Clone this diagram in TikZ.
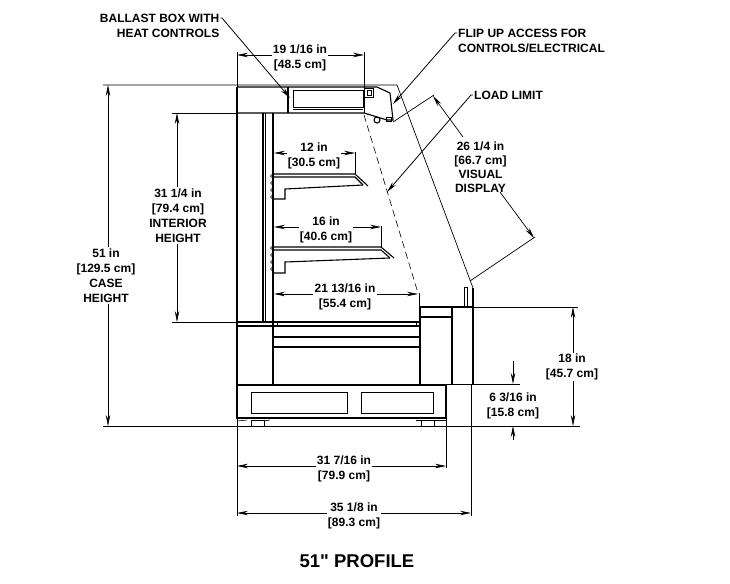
\documentclass[tikz,border=0pt]{standalone}
\usepackage{fontspec}
\setmainfont{Liberation Sans}[Ligatures=TeXOff]
\usetikzlibrary{arrows.meta}
\tikzset{dimtext/.style={shape=rectangle, font=\bfseries\fontsize{12}{15}\selectfont, align=center, inner sep=1pt}}
\tikzset{dimline/.style={line width=0.7pt, -{Stealth[length=11pt,width=4.5pt]}}}
\tikzset{leader/.style={line width=0.8pt, -{Stealth[length=11pt,width=4.5pt]}}}
\tikzset{extline/.style={line width=0.7pt}}
\tikzset{bodyline/.style={line width=1.1pt}}
\tikzset{heavyline/.style={line width=1.6pt}}
\tikzset{thinline/.style={line width=0.6pt}}
\tikzset{cutline/.style={line width=0.6pt, dash pattern=on 7pt off 4pt}}

\begin{document}
\begin{tikzpicture}[x=1pt,y=-1pt]
\useasboundingbox (0,0) rectangle (730,583);
%Nodes
\node[dimtext, align=right, anchor=east] (ballast)  at (220.5,25.5) {BALLAST BOX WITH\\HEAT CONTROLS};
\node[dimtext, align=left, anchor=west]  (flipup)   at (457,40.5) {FLIP UP ACCESS FOR\\CONTROLS/ELECTRICAL};
\node[dimtext, anchor=west]              (loadlim)  at (473,95) {LOAD LIMIT};
\node[dimtext] (depth)    at (300,57.5)  {19 1/16 in\\{}[48.5 cm]};
\node[dimtext] (shelfa)   at (314,155.5) {12 in\\{}[30.5 cm]};
\node[dimtext] (shelfb)   at (326,229.5) {16 in\\{}[40.6 cm]};
\node[dimtext] (floor)    at (345,296.5) {21 13/16 in\\{}[55.4 cm]};
\node[dimtext] (interior) at (178,215.5) {31 1/4 in\\{}[79.4 cm]\\INTERIOR\\HEIGHT};
\node[dimtext] (casehgt)  at (106,275.5) {51 in\\{}[129.5 cm]\\CASE\\HEIGHT};
\node[dimtext, font=\bfseries\fontsize{12}{14}\selectfont] (visual) at (480.5,167) {26 1/4 in\\{}[66.7 cm]\\VISUAL\\DISPLAY};
\node[dimtext] (rail)     at (572,367)   {18 in\\{}[45.7 cm]};
\node[dimtext] (deck)     at (513,406)   {6 3/16 in\\{}[15.8 cm]};
\node[dimtext] (base)     at (344,468.5) {31 7/16 in\\{}[79.9 cm]};
\node[dimtext] (overall)  at (354,516)   {35 1/8 in\\{}[89.3 cm]};
\node[dimtext, font=\bfseries\fontsize{18.5}{22}\selectfont] (title) at (357,561) {51" PROFILE};
%Points
\coordinate (ballastkink) at (222,18);
\coordinate (ballasttip)  at (290,98);
\coordinate (flipkink)    at (455,33);
\coordinate (fliptip)     at (393,104);
\coordinate (loadkink)    at (471,95);
\coordinate (loadtip)     at (387,192);
\coordinate (depthl)   at (237,55);
\coordinate (depthr)   at (364,55);
\coordinate (shelfal)  at (274,153);
\coordinate (shelfar)  at (355,153);
\coordinate (shelfbl)  at (274,227);
\coordinate (shelfbr)  at (381,227);
\coordinate (floorl)   at (274,294);
\coordinate (floorr)   at (418,294);
\coordinate (interiort) at (177,113);
\coordinate (interiorb) at (177,322);
\coordinate (caset)    at (108,85);
\coordinate (caseb)    at (108,426);
\coordinate (visualt)  at (433,96);
\coordinate (visualb)  at (534,238);
\coordinate (visualta) at (463,137);
\coordinate (visualba) at (500,192);
\coordinate (railt)    at (573,307);
\coordinate (railb)    at (573,426);
\coordinate (deckt)    at (513,384);
\coordinate (deckb)    at (513,426);
\coordinate (deckta)   at (513,361);
\coordinate (deckba)   at (513,440);
\coordinate (basel)    at (237,466);
\coordinate (baser)    at (446,466);
\coordinate (overalll) at (237,513);
\coordinate (overallr) at (471,513);
%Case
\draw[heavyline] (237,385) rectangle (446,418);
\draw[thinline] (251,392) rectangle (347,413);
\draw[thinline] (361,392) rectangle (433,413);
\draw[thinline] (251,420) rectangle (264,426);
\draw[thinline] (421,420) rectangle (434,426);
\draw[thinline] (434,420) rectangle (446,426);
\draw[thinline] (237,421) -- (247,420);
\draw[thinline] (264,421) -- (270,420);
\draw[thinline] (416,420) -- (421,420);
\draw[bodyline] (237,87) -- (237,385);
\draw[bodyline] (263,113) -- (263,322);
\draw[thinline] (265,113) -- (265,322);
\draw[bodyline] (273,113) -- (273,385);
\draw[bodyline] (237,322) -- (420,322);
\draw[bodyline] (237,326) -- (420,326);
\draw[thinline] (277,322) -- (277,326);
\draw[thinline] (416,322) -- (416,326);
\draw[bodyline] (273,337) -- (420,337);
\draw[bodyline] (273,347) -- (420,347);
\draw[bodyline] (420,307) -- (420,385);
\draw[bodyline] (420,307) -- (452,307);
\draw[bodyline] (420,317) -- (452,317);
\draw[bodyline] (452,307) -- (452,385);
\draw[bodyline] (452,307) -- (473,307);
\draw[bodyline] (473,288) -- (473,385);
\draw[thinline] (464,287) -- (464,307);
\draw[thinline] (467,287) -- (467,307);
\draw[thinline] (464,287) -- (467,287);
%Canopy
\draw[extline] (103,85) -- (397,85) -- (470,280) -- (473,288);
\draw[bodyline] (237,87) -- (377,87) -- (390,93) -- (393,120) -- (387,120) -- (364,113) -- (237,113);
\draw[bodyline] (288,87) -- (288,113);
\draw[thinline] (293,90) rectangle (363,107);
\draw[thinline] (293,109) -- (363,109);
\draw[thinline] (364,88) rectangle (373,97);
\draw[thinline] (367,90) rectangle (371,95);
\draw[bodyline] (377,120) circle (3);
\draw[thinline] (386,117) rectangle (391,121);
%Shelves
\draw[bodyline] (273,174) -- (355,174) -- (368,186);
\draw[bodyline] (273,177) -- (355,177) -- (363,185);
\draw[bodyline] (363,185) -- (285,189) -- (285,199) -- (273,199);
\draw[bodyline] (273,247) -- (381,247) -- (394,258);
\draw[bodyline] (273,250) -- (381,250) -- (390,258);
\draw[bodyline] (390,258) -- (285,262) -- (285,273) -- (273,273);
\foreach \notch in {176,183,190,197,248,255,262,269}
  \draw[thinline] (272,\notch) circle (1.5);
\draw[cutline] (364,115) -- (418,293);
%Lines
\draw[extline] (237,52) -- (237,87);
\draw[extline] (237,385) -- (237,516);
\draw[extline] (364,52) -- (364,113);
\draw[extline] (355,152) -- (355,174);
\draw[extline] (381,226) -- (381,247);
\draw[extline] (419,293) -- (419,322);
\draw[extline] (172,113) -- (237,113);
\draw[extline] (172,322) -- (237,322);
\draw[extline] (103,426) -- (580,426);
\draw[extline] (473,307) -- (578,307);
\draw[extline] (446,384) -- (520,384);
\draw[extline] (446,418) -- (446,468);
\draw[extline] (471,385) -- (471,516);
\draw[extline] (393,122) -- (434,95);
\draw[extline] (470,281) -- (535,237);
\draw[dimline] (depth.west |- depthl) to (depthl);
\draw[dimline] (depth.east |- depthr) to (depthr);
\draw[dimline] (shelfa.west |- shelfal) to (shelfal);
\draw[dimline] (shelfa.east |- shelfar) to (shelfar);
\draw[dimline] (shelfb.west |- shelfbl) to (shelfbl);
\draw[dimline] (shelfb.east |- shelfbr) to (shelfbr);
\draw[dimline] (floor.west |- floorl) to (floorl);
\draw[dimline] (floor.east |- floorr) to (floorr);
\draw[dimline] (interior.north -| interiort) to (interiort);
\draw[dimline] (interior.south -| interiorb) to (interiorb);
\draw[dimline] (casehgt.north -| caset) to (caset);
\draw[dimline] (casehgt.south -| caseb) to (caseb);
\draw[dimline] (rail.north -| railt) to (railt);
\draw[dimline] (rail.south -| railb) to (railb);
\draw[dimline] (deckta) to (deckt);
\draw[dimline] (deckba) to (deckb);
\draw[dimline] (base.west |- basel) to (basel);
\draw[dimline] (base.east |- baser) to (baser);
\draw[dimline] (overall.west |- overalll) to (overalll);
\draw[dimline] (overall.east |- overallr) to (overallr);
\draw[dimline] (visualta) to (visualt);
\draw[dimline] (visualba) to (visualb);
\draw[leader] (ballast.east |- ballastkink) -- (ballastkink) -- (ballasttip);
\draw[leader] (flipup.west |- flipkink) -- (flipkink) -- (fliptip);
\draw[leader] (loadlim.west) -- (loadkink) -- (loadtip);
\end{tikzpicture}
\end{document}
